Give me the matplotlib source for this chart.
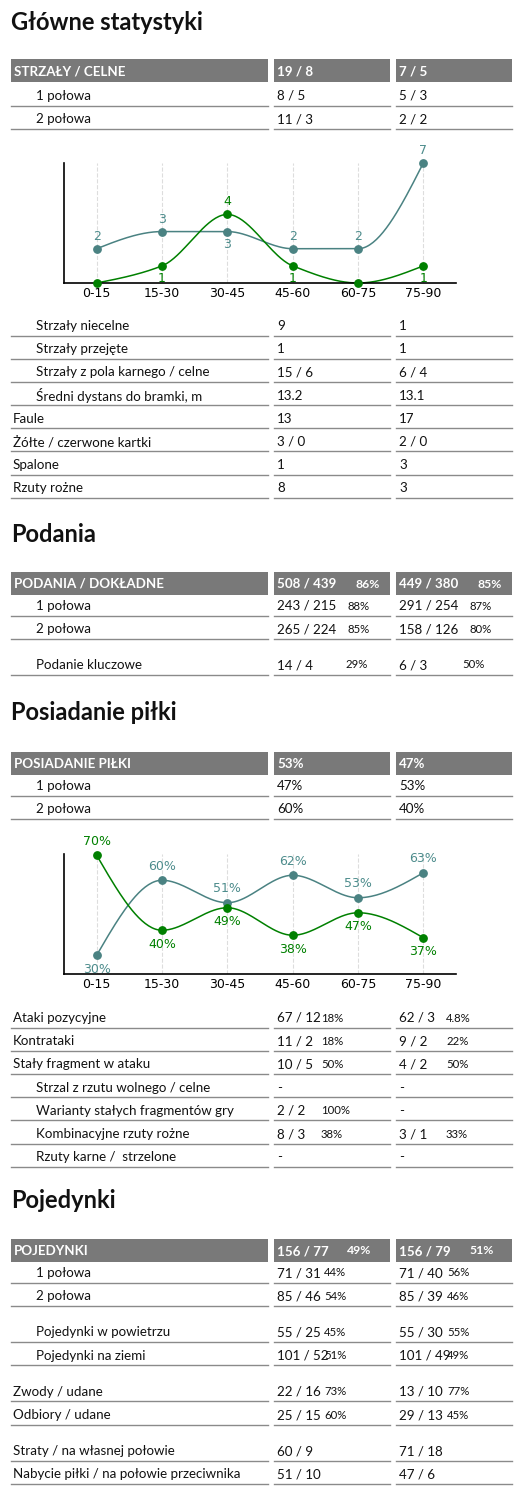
import numpy as np
import matplotlib
matplotlib.use("Agg")
import matplotlib.pyplot as plt

plt.rcParams['font.family'] = ['Lato', 'DejaVu Sans']

periods = ["0-15", "15-30", "30-45", "45-60", "60-75", "75-90"]
shots_team1 = [2, 3, 3, 2, 2, 7]
shots_team2 = [0, 1, 4, 1, 0, 1]
poss_team1 = [30, 60, 51, 62, 53, 63]
poss_team2 = [70, 40, 49, 38, 47, 37]

titles = ["Główne statystyki", "Podania", "Posiadanie piłki", "Pojedynki"]

# (label, indent, col2, col2pct, col3, col3pct)
shots_header = ("STRZAŁY / CELNE", "19 / 8", "", "7 / 5", "")
shots_rows = [("1 połowa", 1, "8 / 5", "", "5 / 3", ""),
              ("2 połowa", 1, "11 / 3", "", "2 / 2", "")]
shots_rows2 = [("Strzały niecelne", 1, "9", "", "1", ""),
               ("Strzały przejęte", 1, "1", "", "1", ""),
               ("Strzały z pola karnego / celne", 1, "15 / 6", "", "6 / 4", ""),
               ("Średni dystans do bramki, m", 1, "13.2", "", "13.1", ""),
               ("Faule", 0, "13", "", "17", ""),
               ("Żółte / czerwone kartki", 0, "3 / 0", "", "2 / 0", ""),
               ("Spalone", 0, "1", "", "3", ""),
               ("Rzuty rożne", 0, "8", "", "3", "")]
pass_header = ("PODANIA / DOKŁADNE", "508 / 439", "86%", "449 / 380", "85%")
pass_rows = [("1 połowa", 1, "243 / 215", "88%", "291 / 254", "87%"),
             ("2 połowa", 1, "265 / 224", "85%", "158 / 126", "80%")]
pass_rows2 = [("Podanie kluczowe", 1, "14 / 4", "29%", "6 / 3", "50%")]
poss_header = ("POSIADANIE PIŁKI", "53%", "", "47%", "")
poss_rows = [("1 połowa", 1, "47%", "", "53%", ""),
             ("2 połowa", 1, "60%", "", "40%", "")]
poss_rows2 = [("Ataki pozycyjne", 0, "67 / 12", "18%", "62 / 3", "4.8%"),
              ("Kontrataki", 0, "11 / 2", "18%", "9 / 2", "22%"),
              ("Stały fragment w ataku", 0, "10 / 5", "50%", "4 / 2", "50%"),
              ("Strzal z rzutu wolnego / celne", 1, "-", "", "-", ""),
              ("Warianty stałych fragmentów gry", 1, "2 / 2", "100%", "-", ""),
              ("Kombinacyjne rzuty rożne", 1, "8 / 3", "38%", "3 / 1", "33%"),
              ("Rzuty karne /  strzelone", 1, "-", "", "-", "")]
duel_header = ("POJEDYNKI", "156 / 77", "49%", "156 / 79", "51%")
duel_rows = [("1 połowa", 1, "71 / 31", "44%", "71 / 40", "56%"),
             ("2 połowa", 1, "85 / 46", "54%", "85 / 39", "46%"),
             None,
             ("Pojedynki w powietrzu", 1, "55 / 25", "45%", "55 / 30", "55%"),
             ("Pojedynki na ziemi", 1, "101 / 52", "51%", "101 / 49", "49%"),
             None,
             ("Zwody / udane", 0, "22 / 16", "73%", "13 / 10", "77%"),
             ("Odbiory / udane", 0, "25 / 15", "60%", "29 / 13", "45%"),
             None,
             ("Straty / na własnej połowie", 0, "60 / 9", "", "71 / 18", ""),
             ("Nabycie piłki / na połowie przeciwnika", 0, "51 / 10", "", "47 / 6", "")]

W, H = 525, 1511
fig = plt.figure(figsize=(W/100, H/100), dpi=100)
ax = fig.add_axes([0, 0, 1, 1])
ax.set_xlim(0, W); ax.set_ylim(H, 0); ax.axis('off')

COLS = [(11, 268), (274, 390), (396, 512)]
FS = 9.6
PFS = 8.2
LINEC = '#8a8a8a'

def title(y, t):
    ax.text(11, y, t, fontsize=17, fontweight='bold', va='center', ha='left', color='#111')

def header(y, h, pct2off=77, pct3off=77):
    for (x0, x1) in COLS:
        ax.add_patch(plt.Rectangle((x0, y-11.5), x1-x0, 23, color='#797979', lw=0))
    ax.text(14, y+1, h[0], fontsize=FS, fontweight='bold', color='white', va='center')
    ax.text(277, y+1, h[1], fontsize=FS, fontweight='bold', color='white', va='center')
    if h[2]:
        ax.text(277+pct2off, y+1, h[2], fontsize=PFS+0.6, fontweight='bold', color='white', va='center')
    ax.text(399, y+1, h[3], fontsize=FS, fontweight='bold', color='white', va='center')
    if h[4]:
        ax.text(399+pct3off, y+1, h[4], fontsize=PFS+0.6, fontweight='bold', color='white', va='center')

def rows(y0, rs, step=23.2, gap=13, pctx2=320, pctx3=446):
    y = y0
    for r in rs:
        if r is None:
            y += gap
            continue
        lab, ind, c2, p2, c3, p3 = r
        ax.text(36 if ind else 13, y, lab, fontsize=FS, va='center', color='#111')
        ax.text(277, y, c2, fontsize=FS, va='center', color='#111')
        ax.text(399, y, c3, fontsize=FS, va='center', color='#111')
        if p2:
            ax.text(pctx2, y, p2, fontsize=PFS, va='center', color='#111')
        if p3:
            ax.text(pctx3, y, p3, fontsize=PFS, va='center', color='#111')
        for (x0, x1) in COLS:
            ax.plot([x0, x1], [y+9.5, y+9.5], color=LINEC, lw=1)
        y += step

def monotone(xs, ys, n=40):
    xs = np.asarray(xs, float); ys = np.asarray(ys, float)
    h = np.diff(xs); d = np.diff(ys)/h
    m = np.zeros(len(xs))
    for i in range(1, len(xs)-1):
        if d[i-1]*d[i] <= 0:
            m[i] = 0
        else:
            m[i] = 2/(1/d[i-1]+1/d[i])
    m[0] = 0 if d[0] == 0 else (3*d[0]-m[1])/2
    m[-1] = 0 if d[-1] == 0 else (3*d[-1]-m[-2])/2
    X, Y = [], []
    for i in range(len(xs)-1):
        t = np.linspace(0, 1, n)
        h00 = 2*t**3-3*t**2+1; h10 = t**3-2*t**2+t
        h01 = -2*t**3+3*t**2; h11 = t**3-t**2
        X.append(xs[i]+t*h[i])
        Y.append(h00*ys[i]+h10*h[i]*m[i]+h01*ys[i+1]+h11*h[i]*m[i+1])
    return np.concatenate(X), np.concatenate(Y)

TEAL = '#4a8282'; GREEN = '#008000'

def chart(rect, s1, s2, ylim, fmt, below1, above2, off):
    cax = fig.add_axes(rect)
    x = np.arange(len(periods))
    for xi in x:
        cax.axvline(xi, color='#dddddd', lw=0.8, ls='--', zorder=0)
    for s, c in ((s1, TEAL), (s2, GREEN)):
        X, Y = monotone(x, s)
        cax.plot(X, Y, color=c, lw=1.1, clip_on=False)
        cax.scatter(x, s, color=c, s=28, zorder=3, clip_on=False)
    for i, v in enumerate(s1):
        if v == 0:
            continue
        dy = -off if i in below1 else off
        cax.annotate(fmt(v), (i, v), xytext=(0, dy), textcoords='offset points',
                     ha='center', va='center', color='#4d8c8c', fontsize=9,
                     family='DejaVu Sans', annotation_clip=False)
    for i, v in enumerate(s2):
        if v == 0:
            continue
        dy = off if i in above2 else -off
        cax.annotate(fmt(v), (i, v), xytext=(0, dy), textcoords='offset points',
                     ha='center', va='center', color=GREEN, fontsize=9,
                     family='DejaVu Sans', annotation_clip=False)
    cax.set_xlim(-0.5, 5.5)
    cax.set_ylim(*ylim)
    cax.set_xticks(x, periods, fontsize=9, family='DejaVu Sans')
    cax.tick_params(length=0, pad=3)
    cax.set_yticks([])
    for sp in ('top', 'right'):
        cax.spines[sp].set_visible(False)
    cax.spines['left'].set_linewidth(1.2); cax.spines['bottom'].set_linewidth(1.2)
    cax.patch.set_alpha(0)

# Section 1
title(22, titles[0])
header(70, shots_header)
rows(96, shots_rows)
ax_l, ax_r = 64, 456
chart([ax_l/W, 1-283/H, (ax_r-ax_l)/W, 120/H], shots_team1, shots_team2, (0, 7),
      lambda v: f"{v}", below1={2}, above2={2}, off=9)
rows(326, shots_rows2)

# Section 2
title(534, titles[1])
header(583, pass_header, pct2off=78, pct3off=78)
rows(606, pass_rows, pctx2=348, pctx3=470)
rows(665, pass_rows2, pctx2=345, pctx3=462)

# Section 3
title(713, titles[2])
header(763, poss_header)
rows(786, poss_rows)
chart([ax_l/W, 1-974/H, (ax_r-ax_l)/W, 120/H], poss_team1, poss_team2, (22.5, 70.5),
      lambda v: f"{v}%", below1={0}, above2={0}, off=10)
rows(1018, poss_rows2, pctx2=321, pctx3=446)

# Section 4
title(1200, titles[3])
header(1250, duel_header, pct2off=70, pct3off=70)
rows(1273, duel_rows, gap=13, pctx2=324, pctx3=447)

fig.savefig("out.png", dpi=100)
